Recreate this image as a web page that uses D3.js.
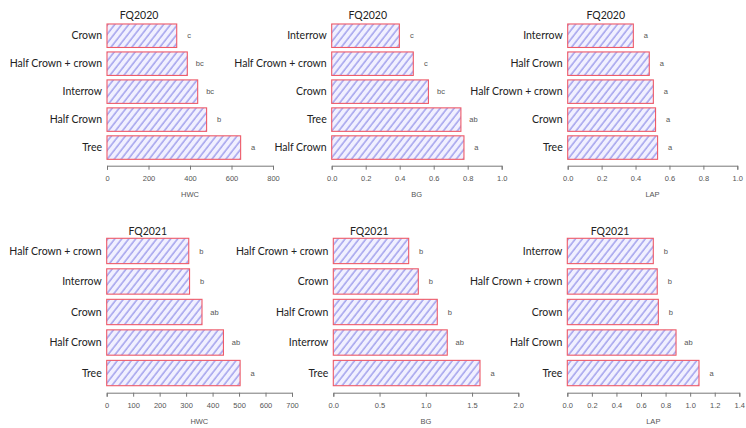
<!DOCTYPE html>
<html>
<head>
<meta charset="utf-8">
<script src="https://cdn.jsdelivr.net/npm/d3@7"></script>
<style>
  body { margin: 0; background: #fff; }
  svg { display: block; }
  .cat { font-family: Lato, "Open Sans", sans-serif; font-size: 10.5px; fill: #222; }
  .ttl { font-family: Lato, "Open Sans", sans-serif; font-size: 10.5px; fill: #222; }
  .tick text, .sig, .axt { font-family: "Liberation Sans", Arial, sans-serif; font-size: 7.5px; fill: #555; }
</style>
</head>
<body>
<div id="chart"></div>
<script>
// data, categories listed top to bottom
var hwc2020Cats = ["Crown", "Half Crown + crown", "Interrow", "Half Crown", "Tree"];
var hwc2020Vals = [336, 387, 437, 480, 644];
var hwc2020Sig = ["c", "bc", "bc", "b", "a"];

var bg2020Cats = ["Interrow", "Half Crown + crown", "Crown", "Tree", "Half Crown"];
var bg2020Vals = [0.398, 0.48, 0.569, 0.76, 0.778];
var bg2020Sig = ["c", "c", "bc", "ab", "a"];

var lap2020Cats = ["Interrow", "Half Crown", "Half Crown + crown", "Crown", "Tree"];
var lap2020Vals = [0.387, 0.481, 0.505, 0.518, 0.53];
var lap2020Sig = ["a", "a", "a", "a", "a"];

var hwc2021Cats = ["Half Crown + crown", "Interrow", "Crown", "Half Crown", "Tree"];
var hwc2021Vals = [310, 313, 360, 441, 504];
var hwc2021Sig = ["b", "b", "ab", "ab", "a"];

var bg2021Cats = ["Half Crown + crown", "Crown", "Half Crown", "Interrow", "Tree"];
var bg2021Vals = [0.815, 0.919, 1.124, 1.232, 1.586];
var bg2021Sig = ["b", "b", "b", "ab", "a"];

var lap2021Cats = ["Interrow", "Half Crown + crown", "Crown", "Half Crown", "Tree"];
var lap2021Vals = [0.70, 0.732, 0.741, 0.885, 1.072];
var lap2021Sig = ["b", "b", "b", "ab", "a"];

var ticks800 = [0, 200, 400, 600, 800];
var ticks1 = [0, 0.2, 0.4, 0.6, 0.8, 1.0];
var ticks700 = [0, 100, 200, 300, 400, 500, 600, 700];
var ticks2 = [0, 0.5, 1.0, 1.5, 2.0];
var ticks14 = [0, 0.2, 0.4, 0.6, 0.8, 1.0, 1.2, 1.4];

var width = 746, height = 428;

var svg = d3.select("#chart").append("svg")
    .attr("width", width)
    .attr("height", height);

// hatch fill
var defs = svg.append("defs");
var pat = defs.append("pattern")
    .attr("id", "hatch")
    .attr("patternUnits", "userSpaceOnUse")
    .attr("width", 5.5)
    .attr("height", 10)
    .attr("patternTransform", "rotate(38)");
pat.append("rect").attr("width", 5.5).attr("height", 10).attr("fill", "#f1f0ff");
pat.append("line")
    .attr("x1", 1).attr("y1", 0).attr("x2", 1).attr("y2", 10)
    .attr("stroke", "#8585e6").attr("stroke-width", 1.1);

// layout per row / panel
var topRow = { y0: 21.75, y1: 161.55, axisY: 165.7, titleY: 18.5, pad: 0.16 };
var botRow = { y0: 235.7, y1: 388.3, axisY: 392.7, titleY: 234.5, pad: 0.17 };

var panels = [
    { row: topRow, cats: hwc2020Cats, vals: hwc2020Vals, sig: hwc2020Sig, max: 800, ticks: ticks800, fmt: d3.format("d"), x0: 107, x1: 273, title: "FQ2020", tx: 139, label: "HWC" },
    { row: topRow, cats: bg2020Cats, vals: bg2020Vals, sig: bg2020Sig, max: 1, ticks: ticks1, fmt: d3.format(".1f"), x0: 331.7, x1: 501.7, title: "FQ2020", tx: 367.7, label: "BG" },
    { row: topRow, cats: lap2020Cats, vals: lap2020Vals, sig: lap2020Sig, max: 1, ticks: ticks1, fmt: d3.format(".1f"), x0: 567.7, x1: 737.3, title: "FQ2020", tx: 605.7, label: "LAP" },
    { row: botRow, cats: hwc2021Cats, vals: hwc2021Vals, sig: hwc2021Sig, max: 700, ticks: ticks700, fmt: d3.format("d"), x0: 106.7, x1: 292, title: "FQ2021", tx: 147.7, label: "HWC" },
    { row: botRow, cats: bg2021Cats, vals: bg2021Vals, sig: bg2021Sig, max: 2, ticks: ticks2, fmt: d3.format(".1f"), x0: 333.3, x1: 518.3, title: "FQ2021", tx: 369.3, label: "BG" },
    { row: botRow, cats: lap2021Cats, vals: lap2021Vals, sig: lap2021Sig, max: 1.4, ticks: ticks14, fmt: d3.format(".1f"), x0: 567.3, x1: 739.3, title: "FQ2021", tx: 610, label: "LAP" }
];

panels.forEach(function (p) {
    var g = svg.append("g");
    var rows = p.cats.map(function (c, i) { return { cat: c, val: p.vals[i], sig: p.sig[i] }; });

    var x = d3.scaleLinear().domain([0, p.max]).range([p.x0, p.x1]);
    var y = d3.scaleBand()
        .domain(p.cats)
        .range([p.row.y0, p.row.y1])
        .paddingInner(p.row.pad)
        .paddingOuter(p.row.pad / 2);

    g.selectAll("rect.bar")
        .data(rows)
        .enter()
        .append("rect")
        .attr("class", "bar")
        .attr("x", x(0))
        .attr("y", function (d) { return y(d.cat); })
        .attr("width", function (d) { return x(d.val) - x(0); })
        .attr("height", y.bandwidth())
        .attr("fill", "url(#hatch)")
        .attr("stroke", "#ee5a68")
        .attr("stroke-width", 1.1);

    // category names
    g.selectAll("text.cat")
        .data(rows)
        .enter()
        .append("text")
        .attr("class", "cat")
        .attr("x", x(0) - 5)
        .attr("y", function (d) { return y(d.cat) + y.bandwidth() / 2; })
        .attr("dy", "0.35em")
        .attr("text-anchor", "end")
        .text(function (d) { return d.cat; });

    // significance letters
    g.selectAll("text.sig")
        .data(rows)
        .enter()
        .append("text")
        .attr("class", "sig")
        .attr("x", function (d) { return x(d.val) + 12.5; })
        .attr("y", function (d) { return y(d.cat) + y.bandwidth() / 2; })
        .attr("dy", "0.35em")
        .attr("text-anchor", "middle")
        .text(function (d) { return d.sig; });

    var axis = g.append("g")
        .attr("transform", "translate(0," + p.row.axisY + ")")
        .call(d3.axisBottom(x).tickValues(p.ticks).tickFormat(p.fmt).tickSizeOuter(0).tickSize(4).tickPadding(6));
    axis.select(".domain").attr("stroke", "#777");
    axis.selectAll(".tick line").attr("stroke", "#777");
    axis.selectAll(".tick text").attr("font-size", null).attr("font-family", null).attr("fill", null);

    g.append("text")
        .attr("class", "axt")
        .attr("x", (p.x0 + p.x1) / 2)
        .attr("y", p.row.axisY + 31)
        .attr("text-anchor", "middle")
        .text(p.label);

    g.append("text")
        .attr("class", "ttl")
        .attr("x", p.tx)
        .attr("y", p.row.titleY)
        .attr("text-anchor", "middle")
        .text(p.title);
});
</script>
</body>
</html>
